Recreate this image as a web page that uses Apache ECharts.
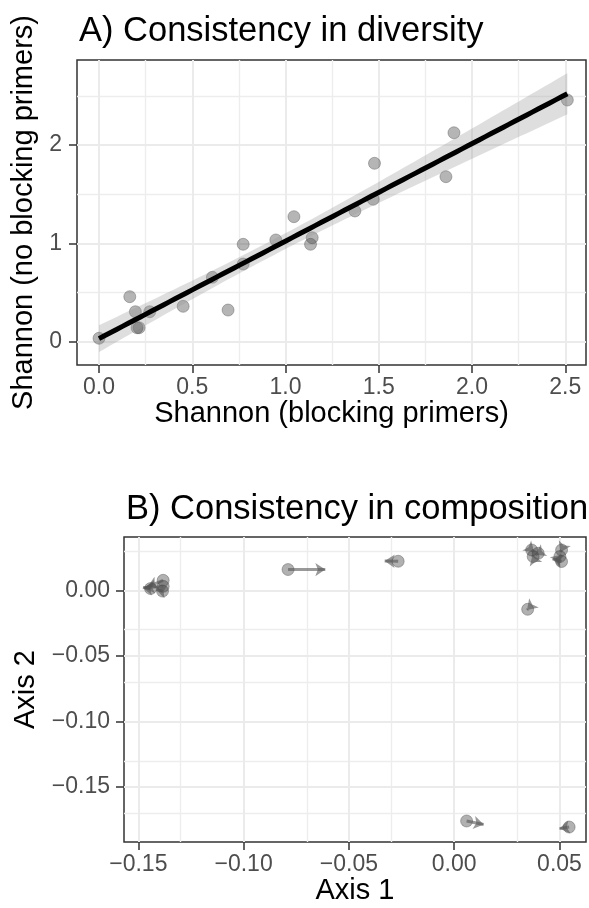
<!DOCTYPE html>
<html><head><meta charset="utf-8">
<script src="https://cdn.jsdelivr.net/npm/echarts@6/dist/echarts.min.js"></script>
<style>html,body{margin:0;padding:0;background:#fff}#c{width:589px;height:908px}</style>
</head><body><div id="c"></div>
<script>
// ---------- Panel A data ----------
const shannonBlocking   = [0.000,0.165,0.195,0.272,0.204,0.215,0.451,0.692,0.608,0.773,0.773,0.948,1.045,1.143,1.134,1.372,1.477,1.470,1.860,1.903,2.511];
const shannonNoBlocking = [0.035,0.458,0.305,0.305,0.142,0.142,0.360,0.322,0.655,0.991,0.790,1.035,1.272,1.058,0.991,1.330,1.815,1.449,1.679,2.126,2.459];
const aXTicks = [0,0.5,1,1.5,2,2.5];
const aXMinor = [0.25,0.75,1.25,1.75,2.25];
const aYTicks = [0,1,2];
const aYMinor = [0.5,1.5,2.5];
// ---------- Panel B data (arrow start -> end) ----------
const axis1Start = [-0.1442,-0.1382,-0.1382,-0.1385,-0.0789,-0.0266,0.0368,0.0399,0.0375,0.0510,0.0502,0.0510,0.0349,0.0059,0.0546];
const axis2Start = [0.0013,0.0076,0.0030,-0.0006,0.0158,0.0221,0.0307,0.0282,0.0257,0.0307,0.0257,0.0219,-0.0145,-0.1758,-0.1804];
const axis1End   = [-0.1478,-0.1455,-0.1470,-0.1415,-0.0612,-0.0330,0.0380,0.0385,0.0372,0.0505,0.0510,0.0467,0.0346,0.0140,0.0500];
const axis2End   = [0.0022,0.0028,0.0020,0.0005,0.0158,0.0223,0.0290,0.0270,0.0270,0.0290,0.0270,0.0239,-0.0150,-0.1784,-0.1816];
const bXTicks = [-0.15,-0.10,-0.05,0,0.05];
const bXMinor = [-0.125,-0.075,-0.025,0.025];
const bYTicks = [0,-0.05,-0.10,-0.15];
const bYMinor = [0.025,-0.025,-0.075,-0.125,-0.175];

// ---------- linear fit with 95% CI (like geom_smooth(method="lm")) ----------
const n = shannonBlocking.length;
const mx = shannonBlocking.reduce((a,b)=>a+b,0)/n;
const my = shannonNoBlocking.reduce((a,b)=>a+b,0)/n;
let sxx=0, sxy=0;
for (let i=0;i<n;i++){ sxx+=(shannonBlocking[i]-mx)**2; sxy+=(shannonBlocking[i]-mx)*(shannonNoBlocking[i]-my); }
const slope = sxy/sxx, icpt = my - slope*mx;
let sse=0; for (let i=0;i<n;i++){ sse+=(shannonNoBlocking[i]-icpt-slope*shannonBlocking[i])**2; }
const s = Math.sqrt(sse/(n-2)), tq = 2.093;
const xmin = Math.min(...shannonBlocking), xmax = Math.max(...shannonBlocking);
const fitPts=[], loPts=[], hiPts=[];
for (let k=0;k<=80;k++){
  const x = xmin + (xmax-xmin)*k/80;
  const yh = icpt + slope*x;
  const se = s*Math.sqrt(1/n + (x-mx)**2/sxx);
  fitPts.push([x,yh]); loPts.push([x, yh - tq*se]); hiPts.push([x, yh + tq*se]);
}

const GRID_MAJ = '#EBEBEB', GRID_MIN = '#EDEDED';
const FONT = '"Liberation Sans", Arial, Helvetica, sans-serif';
function gridMarks(xMaj,xMin,yMaj,yMin){
  const d=[];
  xMin.forEach(v=>d.push({xAxis:v,lineStyle:{color:GRID_MIN,width:1.4}}));
  yMin.forEach(v=>d.push({yAxis:v,lineStyle:{color:GRID_MIN,width:1.4}}));
  xMaj.forEach(v=>d.push({xAxis:v,lineStyle:{color:GRID_MAJ,width:2}}));
  yMaj.forEach(v=>d.push({yAxis:v,lineStyle:{color:GRID_MAJ,width:2}}));
  return {z:0,silent:true,symbol:['none','none'],label:{show:false},animation:false,lineStyle:{type:'solid'},data:d};
}
const minus = v => String(v).replace('-', '\u2212');
function axisOf(ticks, fmt, margin){
  return {
    type:'value',
    axisLine:{show:false,onZero:false},
    axisTick:{show:true,length:8,customValues:ticks,lineStyle:{color:'#333333',width:1.5}},
    axisLabel:{customValues:ticks,formatter:fmt,color:'#4D4D4D',fontSize:23,fontFamily:FONT,margin:margin},
    splitLine:{show:false},
    nameTextStyle:{color:'#000',fontSize:29,fontFamily:FONT},
    nameLocation:'middle'
  };
}

const chart = echarts.init(document.getElementById('c'), null, {renderer:'canvas'});
chart.setOption({
  animation:false,
  backgroundColor:'#fff',
  title:[
    {text:'A) Consistency in diversity',left:74,top:9,textStyle:{fontSize:34.5,fontWeight:'normal',color:'#000',fontFamily:FONT}},
    {text:'B) Consistency in composition',left:121,top:487,textStyle:{fontSize:34.5,fontWeight:'normal',color:'#000',fontFamily:FONT}}
  ],
  grid:[
    {left:77,top:60,width:509,height:305,show:true,borderColor:'#333333',borderWidth:1.5,backgroundColor:'transparent'},
    {left:124,top:537,width:462,height:305,show:true,borderColor:'#333333',borderWidth:1.5,backgroundColor:'transparent'}
  ],
  xAxis:[
    Object.assign(axisOf(aXTicks, v=>v.toFixed(1), 11), {gridIndex:0,position:'bottom',min:-0.118,max:2.611,name:'Shannon (blocking primers)',nameGap:32}),
    Object.assign(axisOf(bXTicks, v=>minus(v.toFixed(2)), 11), {gridIndex:1,position:'bottom',min:-0.1568,max:0.0626,name:'Axis 1',nameGap:30})
  ],
  yAxis:[
    Object.assign(axisOf(aYTicks, v=>v.toFixed(0), 15), {gridIndex:0,position:'left',min:-0.237,max:2.866,name:'Shannon (no blocking primers)',nameGap:30}),
    Object.assign(axisOf(bYTicks, v=>minus(v.toFixed(2)), 14), {gridIndex:1,position:'left',min:-0.1918,max:0.0406,name:'Axis 2',nameGap:77})
  ],
  series:[
    {type:'line',xAxisIndex:0,yAxisIndex:0,data:[],z:0,markLine:gridMarks(aXTicks,aXMinor,aYTicks,aYMinor)},
    {type:'line',xAxisIndex:1,yAxisIndex:1,data:[],z:0,markLine:gridMarks(bXTicks,bXMinor,bYTicks,bYMinor)},
    {type:'scatter',xAxisIndex:0,yAxisIndex:0,z:2,symbolSize:12,
      itemStyle:{color:'rgba(70,70,70,0.5)',borderColor:'rgba(70,70,70,0.45)',borderWidth:1},
      data:shannonBlocking.map((x,i)=>[x,shannonNoBlocking[i]])},
    {type:'custom',xAxisIndex:0,yAxisIndex:0,z:3,silent:true,data:[[xmin,0]],
      renderItem:function(params, api){
        const pts = hiPts.map(p=>api.coord(p)).concat(loPts.slice().reverse().map(p=>api.coord(p)));
        return {type:'polygon',shape:{points:pts},style:{fill:'rgba(153,153,153,0.32)'}};
      }},
    {type:'line',xAxisIndex:0,yAxisIndex:0,z:4,symbol:'none',lineStyle:{color:'#000',width:5},data:fitPts},
    {type:'lines',coordinateSystem:'cartesian2d',xAxisIndex:1,yAxisIndex:1,z:3,symbol:['none','arrow'],symbolSize:10,
      lineStyle:{color:'rgba(85,85,85,0.6)',width:3,opacity:1},
      data:axis1Start.map((x,i)=>({coords:[[x,axis2Start[i]],[axis1End[i],axis2End[i]]]}))},
    {type:'scatter',xAxisIndex:1,yAxisIndex:1,z:2,symbolSize:12,
      itemStyle:{color:'rgba(60,60,60,0.5)',borderColor:'rgba(60,60,60,0.45)',borderWidth:1},
      data:axis1Start.map((x,i)=>[x,axis2Start[i]])}
  ]
});
</script></body></html>
